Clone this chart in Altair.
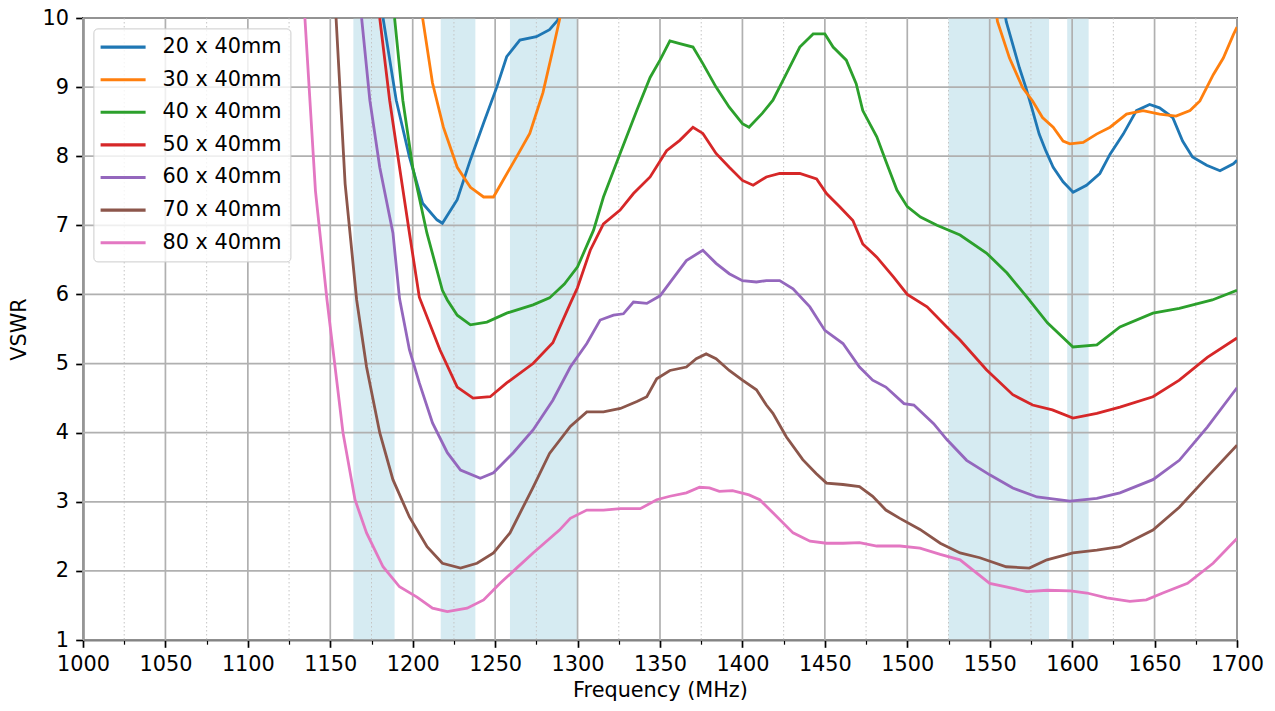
import altair as alt
import pandas as pd

# ---------------- data ----------------
series_labels = ["20 x 40mm", "30 x 40mm", "40 x 40mm", "50 x 40mm",
                 "60 x 40mm", "70 x 40mm", "80 x 40mm"]
series_colors = ["#1f77b4", "#ff7f0e", "#2ca02c", "#d62728",
                 "#9467bd", "#8c564b", "#e377c2"]

freq_20 = [1182, 1190, 1198, 1206, 1214.7, 1218, 1227, 1235, 1243, 1251, 1257,
           1265, 1275, 1283, 1288, 1292, 1420, 1556, 1560, 1568, 1572, 1576,
           1580, 1584, 1588.5, 1594.5, 1600.6, 1608.7, 1616.8, 1623, 1631, 1639,
           1647, 1653, 1661, 1667, 1673, 1681.6, 1689.7, 1697.8, 1700]
vswr_20 = [10.0, 8.81, 7.99, 7.32, 7.08, 7.03, 7.37, 7.95, 8.48, 9.0, 9.44,
           9.68, 9.73, 9.83, 9.97, 10.6, 40.0, 10.6, 9.95, 9.28, 8.99, 8.66,
           8.32, 8.08, 7.84, 7.63, 7.48, 7.58, 7.75, 8.03, 8.32, 8.66,
           8.75, 8.7, 8.56, 8.22, 7.99, 7.87, 7.79, 7.89, 7.94]

freq_30 = [1206, 1212, 1218.6, 1227, 1235, 1243, 1249, 1255, 1263, 1271, 1279,
           1285, 1289, 1293, 1420, 1551, 1554.7, 1562, 1570, 1576, 1582, 1588.5,
           1594.5, 1598.6, 1606.7, 1614.8, 1623, 1633, 1643, 1653, 1663, 1671.5,
           1677.5, 1685.6, 1691.7, 1697.8, 1700]
vswr_30 = [10.0, 9.06, 8.42, 7.84, 7.55, 7.41, 7.41, 7.66, 7.99, 8.33, 8.92,
           9.54, 9.97, 10.6, 40.0, 10.6, 9.95, 9.42, 8.99, 8.8, 8.56, 8.42,
           8.22, 8.18, 8.2, 8.32, 8.42, 8.61, 8.66, 8.61, 8.58, 8.66,
           8.8, 9.18, 9.42, 9.76, 9.87]

freq_40 = [1189, 1194, 1200, 1208.6, 1218, 1221, 1227, 1235, 1245, 1257, 1273,
           1283, 1292, 1300, 1309.7, 1315.7, 1325.8, 1335.9, 1344, 1350, 1356,
           1362, 1370, 1376, 1384, 1392, 1400, 1404, 1412, 1418.5, 1426.6,
           1434.8, 1442.9, 1450, 1455, 1463, 1469, 1473, 1481.5, 1487.6, 1493.7,
           1500, 1508, 1518, 1532, 1548, 1560.5, 1572.6, 1585, 1600.5, 1615,
           1629, 1649, 1665, 1685, 1700]
vswr_40 = [10.0, 8.81, 7.84, 6.89, 6.06, 5.92, 5.7, 5.56, 5.6, 5.73, 5.85,
           5.95, 6.15, 6.4, 6.93, 7.41, 8.04, 8.66, 9.14, 9.39, 9.67,
           9.63, 9.58, 9.34, 9.0, 8.71, 8.47, 8.42, 8.62, 8.81, 9.19,
           9.58, 9.77, 9.77, 9.58, 9.39, 9.05, 8.66, 8.28, 7.89, 7.51,
           7.27, 7.12, 7.0, 6.86, 6.6, 6.31, 5.96, 5.59, 5.24, 5.27,
           5.53, 5.73, 5.8, 5.92, 6.06]

freq_50 = [1180, 1186, 1192, 1198, 1204, 1216.5, 1227, 1236.6, 1247, 1257, 1273,
           1285, 1295.6, 1300, 1307.7, 1315.7, 1325.8, 1333.9, 1344, 1354, 1362,
           1370, 1376, 1384, 1392, 1400, 1406.5, 1414.5, 1422.6, 1434.8, 1445,
           1451, 1459, 1467, 1473, 1481.5, 1491.7, 1500, 1512, 1524, 1532, 1548,
           1564, 1576, 1588, 1600.5, 1615, 1629, 1649, 1665, 1682, 1700]
vswr_50 = [10.0, 8.81, 7.84, 6.89, 5.96, 5.2, 4.66, 4.5, 4.52, 4.72, 5.0,
           5.3, 5.87, 6.1, 6.64, 7.02, 7.22, 7.46, 7.7, 8.08, 8.23,
           8.42, 8.33, 8.04, 7.84, 7.65, 7.58, 7.7, 7.75, 7.75, 7.67,
           7.46, 7.27, 7.07, 6.73, 6.54, 6.25, 6.0, 5.82, 5.53, 5.34, 4.91,
           4.55, 4.4, 4.33, 4.21, 4.28, 4.37, 4.52, 4.76, 5.09, 5.37]

freq_60 = [1169, 1174, 1180, 1188, 1192, 1198, 1204, 1212, 1221, 1229, 1241,
           1249, 1261, 1273, 1285, 1295.6, 1305.6, 1313.7, 1321.8, 1327.8,
           1333.9, 1342, 1350, 1356, 1366, 1376, 1384, 1392, 1400, 1408.5,
           1414.5, 1422.6, 1430.7, 1440.9, 1450, 1461, 1471, 1479, 1487, 1498,
           1504, 1516, 1524, 1536, 1550, 1564, 1578.7, 1598.7, 1615, 1629, 1649,
           1665, 1682, 1700]
vswr_60 = [10.0, 8.81, 7.84, 6.89, 5.94, 5.2, 4.72, 4.14, 3.71, 3.46, 3.34,
           3.42, 3.71, 4.04, 4.47, 4.95, 5.29, 5.63, 5.7, 5.72,
           5.89, 5.87, 5.98, 6.17, 6.49, 6.64, 6.45, 6.3, 6.2, 6.18,
           6.2, 6.2, 6.08, 5.82, 5.48, 5.29, 4.95, 4.76, 4.66, 4.42,
           4.4, 4.13, 3.9, 3.6, 3.39, 3.2, 3.07, 3.01, 3.05, 3.13, 3.32,
           3.6, 4.08, 4.65]

freq_70 = [1153.5, 1159, 1166, 1172, 1180, 1188, 1198, 1208.7, 1218, 1229, 1239,
           1249, 1259, 1273, 1283, 1295.6, 1305.6, 1315.7, 1326, 1336, 1342,
           1348, 1356, 1366, 1372, 1378, 1384, 1392, 1400, 1408.5, 1414.5,
           1418.5, 1426.6, 1436.6, 1444.7, 1451, 1461, 1471, 1479, 1487, 1495.5,
           1507.7, 1520, 1532, 1544, 1560, 1574, 1584.7, 1600.5, 1615, 1629,
           1649, 1665, 1682, 1700]
vswr_70 = [10.0, 7.6, 5.92, 4.95, 4.0, 3.32, 2.78, 2.35, 2.11, 2.04, 2.11,
           2.26, 2.55, 3.21, 3.7, 4.09, 4.3, 4.3, 4.35, 4.45, 4.52,
           4.78, 4.9, 4.95, 5.07, 5.14, 5.07, 4.9, 4.76, 4.62, 4.4,
           4.28, 3.94, 3.61, 3.41, 3.27, 3.25, 3.22, 3.08, 2.88, 2.76,
           2.6, 2.4, 2.26, 2.19, 2.06, 2.04, 2.16, 2.26, 2.30, 2.35,
           2.59, 2.92, 3.36, 3.82]

freq_80 = [1134.6, 1141, 1148, 1157.7, 1165, 1172, 1182, 1192, 1202.6, 1212,
           1221, 1233, 1243, 1253, 1263, 1273, 1289, 1295.6, 1305.6, 1315.7,
           1326, 1338, 1348, 1356, 1366, 1374, 1380, 1386, 1394, 1404, 1410.5,
           1418.5, 1430.7, 1441, 1451, 1461, 1471, 1481.5, 1495.5, 1507.7, 1520,
           1532, 1550, 1560, 1572.6, 1585, 1599, 1609, 1621, 1635, 1645, 1655,
           1670, 1685.5, 1700]
vswr_80 = [10.0, 7.5, 5.92, 4.0, 3.03, 2.55, 2.06, 1.77, 1.62, 1.46,
           1.41, 1.46, 1.58, 1.82, 2.04, 2.26, 2.59, 2.76, 2.88, 2.88,
           2.9, 2.9, 3.03, 3.08, 3.13, 3.21, 3.2, 3.15, 3.16, 3.1, 3.03,
           2.84, 2.55, 2.43, 2.40, 2.40, 2.41, 2.36, 2.36, 2.33, 2.24,
           2.16, 1.82, 1.77, 1.70, 1.72, 1.71, 1.68, 1.61, 1.56, 1.58, 1.68,
           1.82, 2.11, 2.47]

band_start = [1164, 1217, 1259, 1525, 1597]
band_end = [1189, 1238, 1300, 1586, 1610]

x_major_ticks = list(range(1000, 1701, 50))
x_minor_ticks = list(range(1025, 1700, 50))
x_all_ticks = list(range(1000, 1701, 25))
y_ticks = list(range(1, 11))

# ---------------- tables ----------------
all_freq = [freq_20, freq_30, freq_40, freq_50, freq_60, freq_70, freq_80]
all_vswr = [vswr_20, vswr_30, vswr_40, vswr_50, vswr_60, vswr_70, vswr_80]
rows = []
for lab, fs, vs in zip(series_labels, all_freq, all_vswr):
    for f, v in zip(fs, vs):
        rows.append({"freq": f, "vswr": v, "series": lab})
df = pd.DataFrame(rows)
bands = pd.DataFrame({"start": band_start, "end": band_end})
xmaj = pd.DataFrame({"f": x_major_ticks})
xmin = pd.DataFrame({"f": x_minor_ticks})
ymaj = pd.DataFrame({"v": y_ticks})

FONT = "DejaVu Sans"
xscale = alt.Scale(domain=[1000, 1700], nice=False, zero=False)
yscale = alt.Scale(domain=[1, 10], nice=False, zero=False)

band_layer = alt.Chart(bands).mark_rect(color="#add8e6", opacity=0.5).encode(
    x=alt.X("start:Q", scale=xscale),
    x2="end:Q",
    y=alt.datum(1, scale=yscale),
    y2=alt.datum(10),
)

minor_grid = alt.Chart(xmin).mark_rule(
    color="#c4c4c4", strokeWidth=1.0, strokeDash=[1.5, 2.5]
).encode(x=alt.X("f:Q", scale=xscale))

xgrid = alt.Chart(xmaj).mark_rule(color="#b0b0b0", strokeWidth=1.7).encode(
    x=alt.X("f:Q", scale=xscale)
)
ygrid = alt.Chart(ymaj).mark_rule(color="#b0b0b0", strokeWidth=1.7).encode(
    y=alt.Y("v:Q", scale=yscale)
)

lines = alt.Chart(df).mark_line(clip=True, strokeWidth=2.8).encode(
    x=alt.X(
        "freq:Q",
        scale=xscale,
        title="Frequency (MHz)",
        axis=alt.Axis(
            values=x_all_ticks,
            labelExpr="datum.value % 50 == 0 ? datum.label : ''",
            tickSize={"condition": {"test": "datum.value % 50 != 0", "value": 4.2}, "value": 7.3},
            tickWidth={"condition": {"test": "datum.value % 50 != 0", "value": 1.2}, "value": 1.7},
            grid=False,
            format="d",
            labelFlush=False,
            labelOverlap=False,
        ),
    ),
    y=alt.Y(
        "vswr:Q",
        scale=yscale,
        title="VSWR",
        axis=alt.Axis(values=y_ticks, grid=False, format="d",
                      labelFlush=False, labelOverlap=False),
    ),
    color=alt.Color(
        "series:N",
        scale=alt.Scale(domain=series_labels, range=series_colors),
        legend=alt.Legend(
            title=None,
            orient="none",
            legendX=10.4,
            legendY=10.4,
            symbolType="M-3,0H3",
            symbolSize=225,
            symbolStrokeWidth=3.1,
            symbolOffset=11,
            labelOffset=29,
            labelFont=FONT,
            labelFontSize=20.8,
            labelColor="#000000",
            rowPadding=10.6,
            padding=8.3,
            fillColor="rgba(255,255,255,0.8)",
            strokeColor="#cccccc",
            cornerRadius=4,
        ),
    ),
)

chart = alt.layer(band_layer, minor_grid, xgrid, ygrid, lines).properties(
    width=1154,
    height=622,
    autosize=alt.AutoSizeParams(type="none"),
    padding={"left": 75, "top": 10, "right": 30, "bottom": 63},
).configure_view(
    stroke="#000000", strokeWidth=1.7
).configure_axis(
    domainColor="#000000",
    domainWidth=1.7,
    tickColor="#000000",
    tickWidth=1.7,
    tickSize=7.3,
    labelPadding=7.3,
    labelFont=FONT,
    labelFontSize=20.8,
    labelColor="#000000",
    titleFont=FONT,
    titleFontSize=20.8,
    titleFontWeight="normal",
    titleColor="#000000",
).configure_axisX(
    titlePadding=6,
).configure_axisY(
    titlePadding=12,
)

chart.save("out.html", embed_options={"renderer": "svg", "actions": False})
